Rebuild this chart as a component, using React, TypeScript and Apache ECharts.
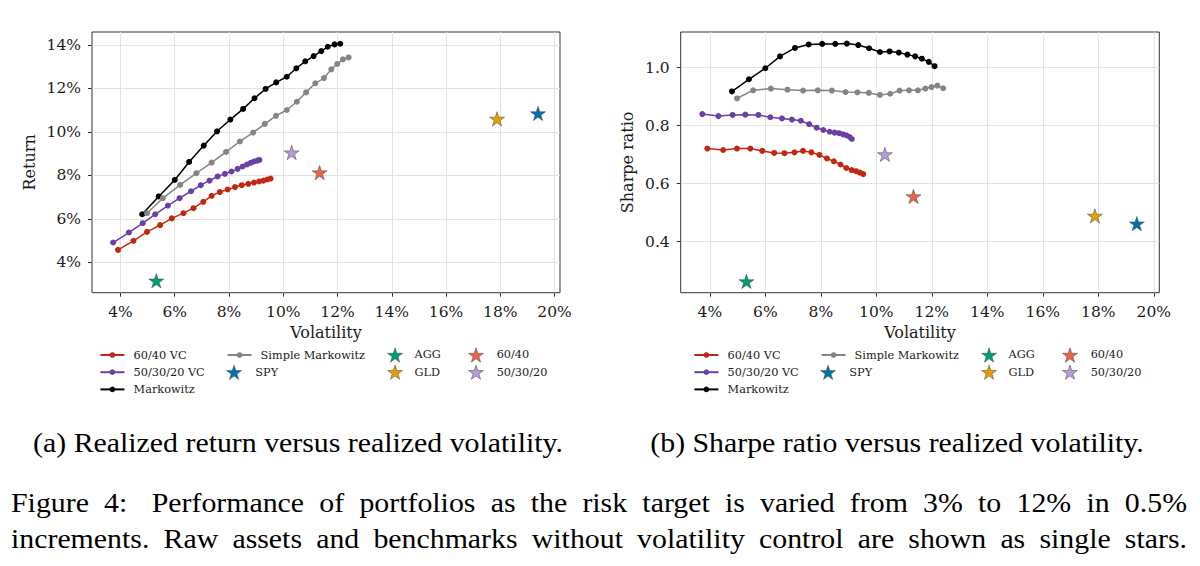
import React, { useEffect, useRef } from "react";
import * as echarts from "echarts";

// ---------- data ----------
const TICKS_VOL = [4, 6, 8, 10, 12, 14, 16, 18, 20];
const TICKS_RET = [4, 6, 8, 10, 12, 14];
const TICKS_SHARPE = [0.4, 0.6, 0.8, 1.0];

const LINE_NAMES = ["60/40 VC", "50/30/20 VC", "Markowitz", "Simple Markowitz"];
const LINE_COLORS = ["#c0280f", "#6a3fa6", "#000000", "#858585"];

const VOL_6040_VC = [3.91, 4.48, 4.98, 5.46, 5.89, 6.32, 6.69, 7.05, 7.36, 7.66, 7.95, 8.22, 8.47, 8.71, 8.92, 9.11, 9.27, 9.41, 9.53];
const RET_6040_VC = [4.57, 4.99, 5.4, 5.71, 6.02, 6.26, 6.49, 6.78, 7.06, 7.23, 7.35, 7.46, 7.55, 7.61, 7.67, 7.72, 7.76, 7.81, 7.85];
const SHARPE_6040_VC = [0.721, 0.716, 0.721, 0.721, 0.713, 0.706, 0.705, 0.708, 0.713, 0.708, 0.699, 0.687, 0.677, 0.666, 0.654, 0.647, 0.643, 0.638, 0.633];

const VOL_503020_VC = [3.73, 4.31, 4.82, 5.28, 5.75, 6.18, 6.6, 6.96, 7.28, 7.58, 7.85, 8.09, 8.32, 8.5, 8.66, 8.8, 8.92, 9.04, 9.12];
const RET_503020_VC = [4.91, 5.37, 5.8, 6.21, 6.61, 6.95, 7.27, 7.55, 7.76, 7.95, 8.07, 8.18, 8.3, 8.41, 8.5, 8.58, 8.64, 8.68, 8.71];
const SHARPE_503020_VC = [0.84, 0.833, 0.837, 0.838, 0.837, 0.829, 0.825, 0.821, 0.817, 0.805, 0.793, 0.785, 0.779, 0.776, 0.774, 0.77, 0.767, 0.761, 0.754];

const VOL_MARKOWITZ = [4.8, 5.41, 6.0, 6.53, 7.07, 7.56, 8.05, 8.52, 8.94, 9.35, 9.74, 10.13, 10.48, 10.81, 11.12, 11.4, 11.64, 11.89, 12.1];
const RET_MARKOWITZ = [6.21, 7.03, 7.79, 8.62, 9.37, 10.03, 10.57, 11.06, 11.55, 11.98, 12.28, 12.54, 12.93, 13.25, 13.49, 13.72, 13.92, 14.03, 14.06];
const SHARPE_MARKOWITZ = [0.918, 0.96, 0.998, 1.039, 1.068, 1.08, 1.082, 1.082, 1.083, 1.078, 1.067, 1.054, 1.056, 1.052, 1.045, 1.039, 1.031, 1.02, 1.005];

const VOL_SIMPLE = [4.98, 5.56, 6.2, 6.8, 7.36, 7.89, 8.4, 8.89, 9.32, 9.73, 10.13, 10.5, 10.84, 11.18, 11.5, 11.77, 11.99, 12.2, 12.41];
const RET_SIMPLE = [6.26, 6.95, 7.56, 8.1, 8.59, 9.08, 9.56, 9.97, 10.37, 10.74, 11.01, 11.39, 11.82, 12.24, 12.48, 12.88, 13.13, 13.34, 13.43];
const SHARPE_SIMPLE = [0.894, 0.922, 0.928, 0.924, 0.921, 0.922, 0.921, 0.916, 0.915, 0.913, 0.906, 0.91, 0.921, 0.922, 0.922, 0.928, 0.933, 0.938, 0.929];

const STAR_NAMES = ["SPY", "AGG", "GLD", "60/40", "50/30/20"];
const STAR_COLORS = ["#0072b2", "#009e73", "#e69f00", "#ea6548", "#b39ddd"];
const STAR_VOL = [19.39, 5.32, 17.88, 11.34, 10.31];
const STAR_RET = [10.85, 3.15, 10.6, 8.13, 9.05];
const STAR_SHARPE = [0.462, 0.263, 0.489, 0.556, 0.701];

const CAPTION_A = "(a) Realized return versus realized volatility.";
const CAPTION_B = "(b) Sharpe ratio versus realized volatility.";
const FIG_LINE_1 = "Figure 4: Performance of portfolios as the risk target is varied from 3% to 12% in 0.5%";
const FIG_LINE_2 = "increments. Raw assets and benchmarks without volatility control are shown as single stars.";

// ---------- styling ----------
const STAR = "path://M50,0 L61.2,34.5 L97.6,34.5 L68.2,55.9 L79.4,90.5 L50,69.1 L20.6,90.5 L31.8,55.9 L2.4,34.5 L38.8,34.5 Z";
const AX_FONT = "DejaVu Serif";
const TXT = "#1a1a1a";
const CAP_SIZE = 27.5;
const CAP_FAMILY = "Liberation Serif";
const CAP_FONT = `${CAP_SIZE}px "${CAP_FAMILY}"`;

function buildOption() {
  const ctx = document.createElement("canvas").getContext("2d") as CanvasRenderingContext2D;
  ctx.font = CAP_FONT;
  const m = (t: string) => ctx.measureText(t).width;
  const s = 530 / m(CAPTION_A);

  const capText = (text: string, x: number, y: number, align: string) => ({
    type: "text",
    x,
    y,
    scaleX: s,
    silent: true,
    style: {
      text,
      fontFamily: CAP_FAMILY,
      fontSize: CAP_SIZE,
      fill: "#000",
      textAlign: align,
      align,
      textVerticalAlign: "middle",
      verticalAlign: "middle",
    },
  });

  const justify = (line: string, x0: number, x1: number, y: number, bigGapAfter: number) => {
    const words = line.split(" ");
    const widths = words.map((w) => m(w) * s);
    const total = widths.reduce((a, b) => a + b, 0);
    const weights = words.slice(0, -1).map((_, i) => (i === bigGapAfter ? 1.6 : 1));
    const wsum = weights.reduce((a, b) => a + b, 0);
    const unit = (x1 - x0 - total) / wsum;
    const els: any[] = [];
    let x = x0;
    words.forEach((w, i) => {
      els.push(capText(w, x, y, "left"));
      x += widths[i] + (i < weights.length ? weights[i] * unit : 0);
    });
    return els;
  };

  const graphics = [
    capText(CAPTION_A, 298, 442.4, "center"),
    capText(CAPTION_B, 897, 442.4, "center"),
    ...justify(FIG_LINE_1, 11, 1187, 502.4, 1),
    ...justify(FIG_LINE_2, 11, 1187, 538.0, -1),
  ];

  const grids = [
    { left: 92, top: 32, width: 468, height: 260.7 },
    { left: 680.7, top: 32, width: 478.6, height: 260.7 },
  ].map((g) => ({ ...g, show: true, borderColor: "#333", borderWidth: 1, backgroundColor: "transparent", containLabel: false }));

  const tickStyle = { show: true, length: 4, lineStyle: { color: "#333", width: 1 } };
  const splitStyle = { show: true, lineStyle: { color: "#e3e3e3", width: 1 } };
  const labelStyle = { fontFamily: AX_FONT, fontSize: 15.5, color: TXT, margin: 11 };
  const nameStyle = { fontFamily: AX_FONT, fontSize: 16, color: TXT };

  const xAxes = [0, 1].map((i) => ({
    type: "value",
    gridIndex: i,
    min: 2.95,
    max: 20.2,
    name: "Volatility",
    nameLocation: "middle",
    nameGap: 32,
    nameTextStyle: nameStyle,
    axisLine: { show: false },
    axisTick: { ...tickStyle, customValues: TICKS_VOL },
    axisLabel: { ...labelStyle, customValues: TICKS_VOL, formatter: (v: number) => `${v}%` },
    splitLine: splitStyle,
  }));

  const yAxes = [
    {
      type: "value",
      gridIndex: 0,
      min: 2.6,
      max: 14.6,
      name: "Return",
      nameLocation: "middle",
      nameGap: 55,
      nameTextStyle: nameStyle,
      axisLine: { show: false },
      axisTick: { ...tickStyle, customValues: TICKS_RET },
      axisLabel: { ...labelStyle, customValues: TICKS_RET, formatter: (v: number) => `${v}%` },
      splitLine: splitStyle,
    },
    {
      type: "value",
      gridIndex: 1,
      min: 0.224,
      max: 1.123,
      name: "Sharpe ratio",
      nameLocation: "middle",
      nameGap: 45,
      nameTextStyle: nameStyle,
      axisLine: { show: false },
      axisTick: { ...tickStyle, customValues: TICKS_SHARPE },
      axisLabel: { ...labelStyle, customValues: TICKS_SHARPE, formatter: (v: number) => v.toFixed(1) },
      splitLine: splitStyle,
    },
  ];

  const lineVols = [VOL_6040_VC, VOL_503020_VC, VOL_MARKOWITZ, VOL_SIMPLE];
  const lineRets = [RET_6040_VC, RET_503020_VC, RET_MARKOWITZ, RET_SIMPLE];
  const lineSharpes = [SHARPE_6040_VC, SHARPE_503020_VC, SHARPE_MARKOWITZ, SHARPE_SIMPLE];

  const series: any[] = [];
  [0, 1].forEach((g) => {
    LINE_NAMES.forEach((name, k) => {
      const ys = g === 0 ? lineRets[k] : lineSharpes[k];
      series.push({
        type: "line",
        name,
        xAxisIndex: g,
        yAxisIndex: g,
        data: lineVols[k].map((v, j) => [v, ys[j]]),
        symbol: "circle",
        symbolSize: 6,
        showSymbol: true,
        lineStyle: { color: LINE_COLORS[k], width: 1.5 },
        itemStyle: { color: LINE_COLORS[k] },
        z: 2,
        silent: true,
      });
    });
    STAR_NAMES.forEach((name, k) => {
      series.push({
        type: "scatter",
        name,
        xAxisIndex: g,
        yAxisIndex: g,
        data: [[STAR_VOL[k], g === 0 ? STAR_RET[k] : STAR_SHARPE[k]]],
        symbol: STAR,
        symbolSize: 15,
        symbolKeepAspect: true,
        itemStyle: { color: STAR_COLORS[k], borderColor: "#444", borderWidth: 0.5, opacity: 1 },
        z: 3,
        silent: true,
      });
    });
  });

  const legend = (names: string[], left: number, top: number, star: boolean, pad: number) => {
    const l: any = {
      orient: "vertical",
      left,
      top,
      padding: 0,
      itemGap: 0,
      itemWidth: 24,
      itemHeight: star ? 14.3 : 7,
      selectedMode: false,
      data: names.map((n) => (star ? { name: n, icon: STAR } : { name: n })),
      textStyle: { fontFamily: AX_FONT, fontSize: 11.3, color: TXT, lineHeight: 17.2, padding: [0, 0, 0, pad] },
    };
    if (star) l.itemStyle = { borderColor: "#444", borderWidth: 0.5 };
    return l;
  };

  const legends: any[] = [];
  [0, 594].forEach((dx) => {
    legends.push(legend(["60/40 VC", "50/30/20 VC", "Markowitz"], 99.4 + dx, 346.4, false, 4.2));
    legends.push(legend(["Simple Markowitz"], 226.6 + dx, 346.4, false, 4));
    legends.push(legend(["SPY"], 226.3 + dx, 363.7, true, 4.3));
    legends.push(legend(["AGG", "GLD"], 387.3 + dx, 346.4, true, 2.5));
    legends.push(legend(["60/40", "50/30/20"], 468.2 + dx, 346.4, true, 3.7));
  });

  return {
    animation: false,
    backgroundColor: "#ffffff",
    grid: grids,
    xAxis: xAxes,
    yAxis: yAxes,
    legend: legends,
    series,
    graphic: graphics,
  };
}

export default function App() {
  const ref = useRef<HTMLDivElement>(null);
  useEffect(() => {
    if (!ref.current) return;
    const chart = echarts.init(ref.current, undefined, { renderer: "svg" });
    chart.setOption(buildOption() as any);
    return () => chart.dispose();
  }, []);
  return (
    <div
      ref={ref}
      style={{ position: "absolute", left: 0, top: 0, width: 1200, height: 566, background: "#fff" }}
    />
  );
}
